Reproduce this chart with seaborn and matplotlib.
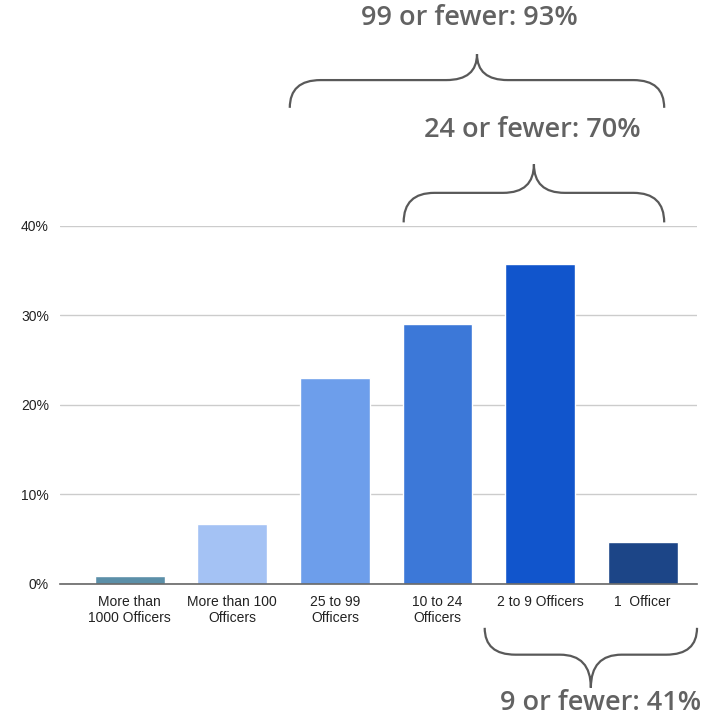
import numpy as np
import pandas as pd
import matplotlib
matplotlib.use("Agg")
import matplotlib.pyplot as plt
from matplotlib.path import Path
from matplotlib.patches import PathPatch
from matplotlib.ticker import PercentFormatter
import seaborn as sns

# data
categories = ["More than\n1000 Officers", "More than 100\nOfficers", "25 to 99\nOfficers",
              "10 to 24\nOfficers", "2 to 9 Officers", "1  Officer"]
shares = [0.009, 0.067, 0.230, 0.291, 0.358, 0.047]
bar_colors = ["#5b8fa8", "#a4c2f4", "#6d9eeb", "#3c78d8", "#1155cc", "#1c4587"]

# brace groups: label, x-span (category units), y of ends, y of bar, y of tip, y of text
brace_labels = ["99 or fewer: 93%", "24 or fewer: 70%", "9 or fewer: 41%"]
brace_spans = [(1.56, 5.21), (2.67, 5.21), (3.46, 5.53)]
brace_levels = [(0.532, 0.563, 0.592, 0.632), (0.404, 0.437, 0.469, 0.507),
                (-0.049, -0.079, -0.116, -0.133)]
text_shift = [-0.07, -0.02, 0.09]

df = pd.DataFrame({"cat": categories, "share": shares})

sns.set_style("white")
plt.rcParams["font.family"] = ["Liberation Sans", "DejaVu Sans"]

fig = plt.figure(figsize=(7.16, 7.16), dpi=100)
ax = fig.add_axes([0.0838, 0.1844, 0.8897, 0.5])

sns.barplot(data=df, x="cat", y="share", hue="cat", palette=bar_colors,
            width=0.68, legend=False, ax=ax, saturation=1)

ax.set_ylim(0, 0.40)
ax.set_xlim(-0.68, 5.53)
ax.set_yticks([0, 0.1, 0.2, 0.3, 0.4])
ax.yaxis.set_major_formatter(PercentFormatter(1.0, decimals=0))
ax.grid(axis="y", color="#cccccc", linewidth=1)
ax.set_axisbelow(True)
for s in ["top", "right", "left"]:
    ax.spines[s].set_visible(False)
ax.spines["bottom"].set_color("#666666")
ax.spines["bottom"].set_linewidth(1.2)
ax.tick_params(length=0, labelsize=10, colors="#222222", pad=8)
ax.set_xlabel("")
ax.set_ylabel("")


def brace(x0, x1, y_end, y_bar, y_tip, r=0.3):
    xm = (x0 + x1) / 2
    verts = [(x0, y_end), (x0, y_bar), (x0 + r, y_bar),
             (xm - r, y_bar), (xm, y_bar), (xm, y_tip),
             (xm, y_bar), (xm + r, y_bar),
             (x1 - r, y_bar), (x1, y_bar), (x1, y_end)]
    codes = [Path.MOVETO, Path.CURVE3, Path.CURVE3,
             Path.LINETO, Path.CURVE3, Path.CURVE3,
             Path.CURVE3, Path.CURVE3,
             Path.LINETO, Path.CURVE3, Path.CURVE3]
    return PathPatch(Path(verts, codes), fill=False, edgecolor="#595959",
                     linewidth=1.6, clip_on=False)


for lab, (x0, x1), (ye, yb, yt, ytx), dx in zip(brace_labels, brace_spans,
                                                brace_levels, text_shift):
    ax.add_patch(brace(x0, x1, ye, yb, yt))
    ax.text((x0 + x1) / 2 + dx, ytx, lab, ha="center", va="center", fontsize=19.5,
            fontweight="semibold", color="#626262",
            family=["Open Sans", "DejaVu Sans"], clip_on=False)

fig.savefig("out.png", dpi=100)
